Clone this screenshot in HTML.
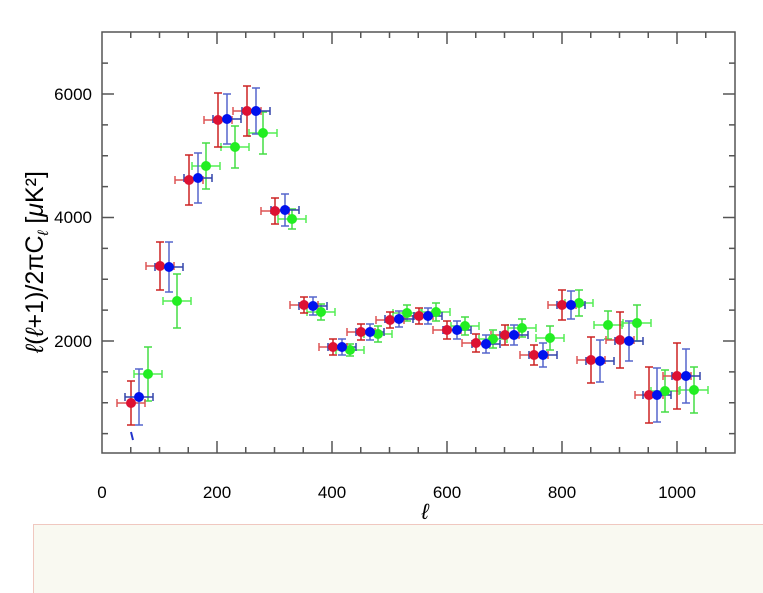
<!DOCTYPE html>
<html><head><meta charset="utf-8"><style>
html,body{margin:0;padding:0;background:#fff;width:763px;height:593px;overflow:hidden}
svg{display:block}
text{font-family:"Liberation Sans",sans-serif}
</style></head><body>
<svg id="s" width="763" height="593" viewBox="0 0 763 593">
<rect x="33.5" y="524.5" width="740" height="80" fill="#f9f9f1" stroke="#f0c8c0"/>
<g id="ax" stroke="#555" stroke-width="1.5" fill="none"></g>
<g font-size="17" fill="#000" text-anchor="middle">
<text x="102" y="498">0</text><text x="217" y="498">200</text><text x="332" y="498">400</text>
<text x="447" y="498">600</text><text x="562" y="498">800</text><text x="677" y="498">1000</text>
</g>
<g font-size="17" fill="#000" text-anchor="end">
<text x="92" y="100">6000</text><text x="92" y="223">4000</text><text x="92" y="347">2000</text>
</g>
<text x="425" y="519" font-size="22" font-style="italic" font-family="Liberation Serif,serif" text-anchor="middle">ℓ</text>
<text transform="translate(43,262) rotate(-90)" font-size="25" font-family="Liberation Serif,serif" text-anchor="middle"><tspan font-style="italic">ℓ</tspan>(<tspan font-style="italic">ℓ</tspan>+1)/2πC<tspan font-style="italic" font-size="15" dy="5">ℓ</tspan><tspan dy="-5"> [</tspan><tspan font-style="italic">μ</tspan>K²]</text>
<g id="d"></g>
<path d="M131 432 L133 440" stroke="#2233cc" stroke-width="2"/>
</svg>
<script>
var ax=document.getElementById('ax'),d=document.getElementById('d'),ns='http://www.w3.org/2000/svg';
function el(p,t,a){var e=document.createElementNS(ns,t);for(var k in a)e.setAttribute(k,a[k]);p.appendChild(e);return e;}
el(ax,'rect',{x:102,y:32,width:633,height:421});
for(var l=50;l<1100;l+=50){var x=102+l*0.575,L=(l%200==0)?12:6;el(ax,'line',{x1:x,y1:453,x2:x,y2:453-L});el(ax,'line',{x1:x,y1:32,x2:x,y2:32+L});}
for(var v=500;v<7000;v+=500){var y=341-(v-2000)*0.06175,L=(v%2000==0)?12:6;el(ax,'line',{x1:102,y1:y,x2:102+L,y2:y});el(ax,'line',{x1:735,y1:y,x2:735-L,y2:y});}
var R=[[131,403,22],[160,266,24],[189,180,25],[218,120,27],[247,111,25],[275,211,13],[304,305,8],[333,347,8],[361,332,8],[390,320,8],[419,316,8],[447,330,9],[476,343,9],[505,335,10],[534,355,10],[562,305,15],[591,360,23],[620,340,28],[649,395,28],[677,376,33]];
var B=[[139,397,28],[169,267,25],[198,178,25],[227,119,25],[256,111,23],[285,210,16],[313,306,9],[342,347,8],[370,332,8],[399,319,8],[428,316,8],[457,330,9],[486,344,9],[514,335,10],[543,355,12],[571,305,14],[600,361,21],[629,341,20],[657,395,27],[686,376,27]];
var G=[[148,374,27],[177,301,27],[206,166,23],[235,147,21],[263,133,21],[292,219,10],[321,312,8],[350,350,6],[378,334,8],[407,313,8],[436,312,9],[465,326,9],[493,339,9],[522,328,9],[550,338,12],[579,303,13],[608,325,14],[637,323,18],[665,391,21],[694,390,23]];
function draw(P,c1,c2){P.forEach(function(p){var x=p[0],y=p[1],e=p[2],h=14;
el(d,'line',{x1:x-h,y1:y,x2:x+h,y2:y,stroke:c1,'stroke-width':1.5});
el(d,'line',{x1:x-h,y1:y-4,x2:x-h,y2:y+4,stroke:c1,'stroke-width':1.5});
el(d,'line',{x1:x+h,y1:y-4,x2:x+h,y2:y+4,stroke:c1,'stroke-width':1.5});
el(d,'line',{x1:x,y1:y-e,x2:x,y2:y+e,stroke:c2,'stroke-width':1.5});
el(d,'line',{x1:x-4,y1:y-e,x2:x+4,y2:y-e,stroke:c2,'stroke-width':1.5});
el(d,'line',{x1:x-4,y1:y+e,x2:x+4,y2:y+e,stroke:c2,'stroke-width':1.5});
});}
function dots(P,c){P.forEach(function(p){el(d,'circle',{cx:p[0],cy:p[1],r:5,fill:c});});}
draw(G,'#55ee55','#44dd44');draw(R,'#dd5555','#cc2222');draw(B,'#3344aa','#5566cc');
dots(G,'#22ee22');dots(R,'#dd1133');dots(B,'#0011ee');
</script>
</body></html>
